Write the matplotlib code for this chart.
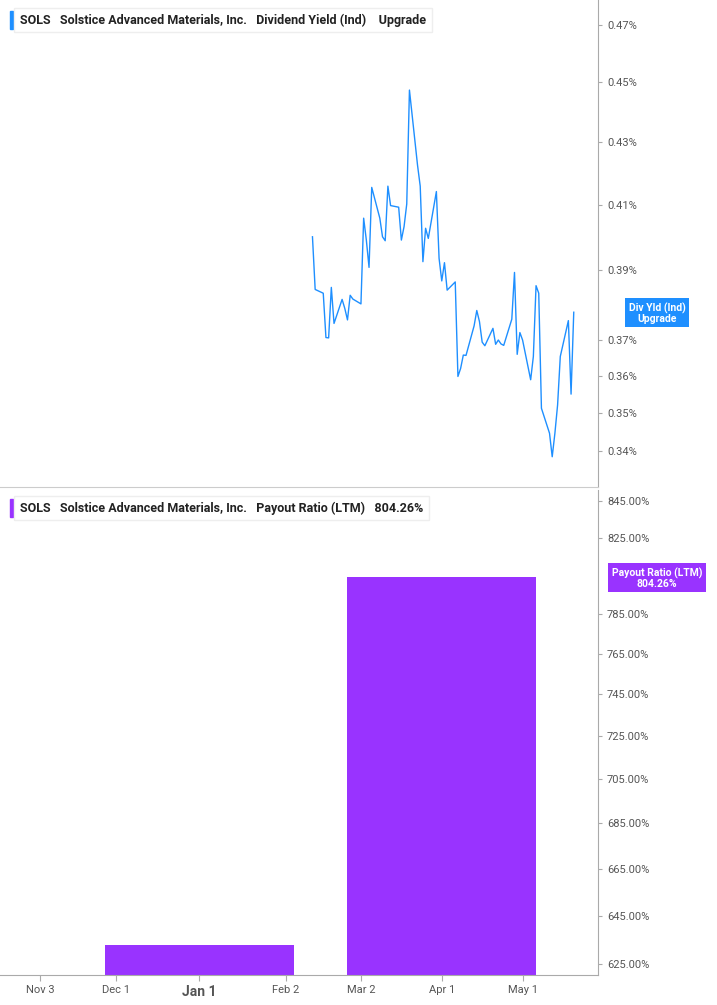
import numpy as np
import pandas as pd
import matplotlib.pyplot as plt
import matplotlib.dates as mdates
from matplotlib.ticker import FixedLocator, NullLocator

plt.rcParams['font.family'] = ['Roboto', 'DejaVu Sans']

# dividend yield (%), business days from Feb 12 2026
yld = [0.4001, 0.3844, 0.3833, 0.3706, 0.3705, 0.3850, 0.3746, 0.3815, 0.3789, 0.3756,
       0.3827, 0.3816, 0.3802, 0.4058, 0.3991, 0.3909, 0.4154, 0.4058, 0.4001, 0.3989,
       0.4158, 0.4097, 0.4092, 0.3991, 0.4032, 0.4102, 0.4473, 0.4225, 0.4158, 0.3926,
       0.4027, 0.3996, 0.4141, 0.3936, 0.3869, 0.3923, 0.3842, 0.3866, 0.3598, 0.3620,
       0.3657, 0.3656, 0.3739, 0.3783, 0.3751, 0.3693, 0.3683, 0.3732, 0.3687, 0.3699,
       0.3688, 0.3684, 0.3758, 0.3894, 0.3659, 0.3720, 0.3699, 0.3589, 0.3653, 0.3855,
       0.3833, 0.3512, 0.3446, 0.3385, 0.3446, 0.3521, 0.3653, 0.3754, 0.3550, 0.3778]
yld_dates = pd.bdate_range('2026-02-12', periods=len(yld))

# payout ratio (%) by period
pay_start = ['2025-11-27', '2026-02-25']
pay_end = ['2026-02-05', '2026-05-06']
payout = [632.8, 804.26]

yld_ticks = [0.34, 0.35, 0.36, 0.37, 0.39, 0.41, 0.43, 0.45, 0.47]
pay_ticks = [625, 645, 665, 685, 705, 725, 745, 765, 785, 825, 845]
x_ticks = ['2025-11-03', '2025-12-01', '2026-01-01', '2026-02-02', '2026-03-02', '2026-04-01', '2026-05-01']
x_labels = ['Nov 3', 'Dec 1', 'Jan 1', 'Feb 2', 'Mar 2', 'Apr 1', 'May 1']

blue = '#1e8fff'
purple = '#9933ff'
grey = '#555555'
xlim = (mdates.datestr2num('2025-10-19'), mdates.datestr2num('2026-05-29'))

fig = plt.figure(figsize=(7.17, 10.05), dpi=100)
ax1 = fig.add_axes([0, 518 / 1005, 598 / 717, 487 / 1005])
ax2 = fig.add_axes([0, 30 / 1005, 598 / 717, 485 / 1005])

for ax in (ax1, ax2):
    ax.set_yscale('log')
    ax.set_xlim(*xlim)
    ax.yaxis.tick_right()
    for s in ('top', 'left'):
        ax.spines[s].set_visible(False)
    ax.spines['right'].set_color('#aaaaaa')
    ax.spines['bottom'].set_color('#cccccc')
    ax.yaxis.set_minor_locator(NullLocator())
    ax.tick_params(axis='y', colors='#aaaaaa', labelcolor=grey, labelsize=8, length=3)

ax1.plot(yld_dates, yld, color=blue, lw=1)
ax1.set_ylim(0.3308, 0.479)
ax1.yaxis.set_major_locator(FixedLocator(yld_ticks))
ax1.set_yticklabels([f'{t:.2f}%' for t in yld_ticks])
ax1.set_xticks([])

s = mdates.datestr2num(pay_start)
e = mdates.datestr2num(pay_end)
ax2.bar(s, payout, width=e - s, align='edge', color=purple, bottom=0)
ax2.set_ylim(620.5, 851)
ax2.yaxis.set_major_locator(FixedLocator(pay_ticks))
ax2.yaxis.set_minor_locator(NullLocator())
ax2.set_yticklabels([f'{t:.2f}%' for t in pay_ticks])
ax2.set_xticks(mdates.datestr2num(x_ticks))
ax2.set_xticklabels(x_labels)
ax2.tick_params(axis='x', colors='#aaaaaa', labelcolor=grey, labelsize=8, length=4)
for lab in ax2.get_xticklabels():
    if lab.get_text() == 'Jan 1':
        lab.set_fontweight('bold')
        lab.set_fontsize(10)
ax2.spines['bottom'].set_color('#aaaaaa')

# right-side value tags
fig.text(0.9165, 1 - 313 / 1005, 'Div Yld (Ind)\nUpgrade', color='white', fontsize=7.5,
         fontweight='bold', ha='center', va='center', linespacing=1.0,
         bbox=dict(boxstyle='square,pad=0.35', fc=blue, ec='none'))
fig.text(0.9165, 1 - 578 / 1005, 'Payout Ratio (LTM)\n804.26%', color='white', fontsize=7.5,
         fontweight='bold', ha='center', va='center', linespacing=1.0,
         bbox=dict(boxstyle='square,pad=0.35', fc=purple, ec='none'))

# legends
def legend(y, color, text):
    fig.text(20 / 717, 1 - y / 1005, text, fontsize=9, fontweight='bold', color='#222222',
             va='center', ha='left',
             bbox=dict(boxstyle='square,pad=0.45', fc='white', ec='#eeeeee'))
    fig.patches.append(plt.Rectangle((10 / 717, 1 - (y + 9) / 1005), 3 / 717, 18 / 1005,
                                     transform=fig.transFigure, color=color))

legend(20, blue, 'SOLS   Solstice Advanced Materials, Inc.   Dividend Yield (Ind)    Upgrade')
legend(508, purple, 'SOLS   Solstice Advanced Materials, Inc.   Payout Ratio (LTM)   804.26%')

fig.savefig('out.png', dpi=100)
